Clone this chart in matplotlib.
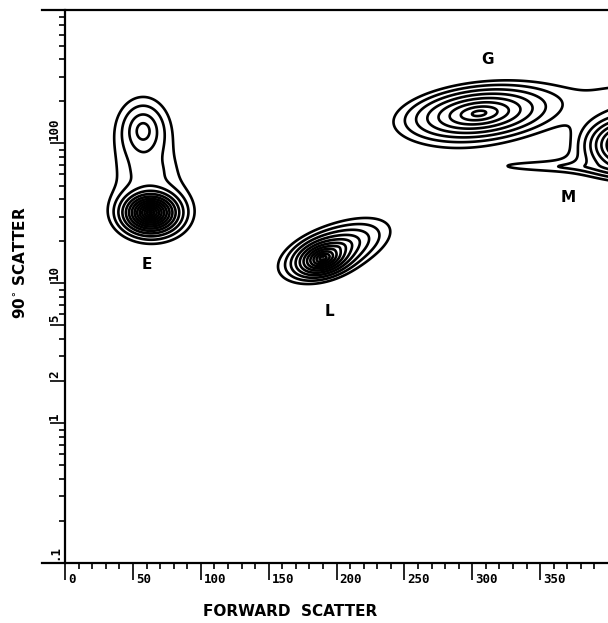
import numpy as np
import matplotlib
matplotlib.use('Agg')
import matplotlib.pyplot as plt
from matplotlib.transforms import ScaledTranslation

# ---- axis ticks -------------------------------------------------------
x_ticks = [0, 50, 100, 150, 200, 250, 300, 350]
x_tick_labels = ['0', '50', '100', '150', '200', '250', '300', '350']
y_ticks = [0.1, 1, 2, 5, 10, 100]
y_tick_labels = ['.1', '1', '2', '5', '10', '100']

# ---- cluster labels ---------------------------------------------------
cluster_names = ['E', 'L', 'G', 'M']
cluster_label_x = [60, 195, 311, 371]
cluster_label_y = [13.6, 6.25, 400, 41]

# ---- population components (forward scatter, log10 90deg scatter) ----
#            E_up   E_core E_halo E_neck L_core L_halo G      G_tail M      M_tail
comp_x   = [57.5,  63,    64,    62,    190,   200,   305,   420,   418,   375]
comp_u   = [2.09,  1.505, 1.50,  1.80,  1.18,  1.25,  2.215, 2.34,  1.99,  1.835]
comp_sx  = [14,    4.5,   17,    18,    5.5,   22,    22,    40,    10,    105]
comp_su  = [0.17,  0.032, 0.12,  0.12,  0.035, 0.12,  0.08,  0.12,  0.06,  0.075]
comp_rho = [0.0,   0.0,   0.0,   0.0,   0.3,   0.55,  0.25,  0.0,   0.0,   0.0]
comp_w   = [4.1,   150,   5,     0.8,   60,    6,     17,    1.5,   60,    1.4]

level_ratio = 1.45
n_levels = 16

# ---- density grid -----------------------------------------------------
gx = np.linspace(-20, 470, 981)
gu = np.linspace(-1.1, 3.1, 841)
X, U = np.meshgrid(gx, gu)
D = np.zeros_like(X)
for cx, cu, sx, su, rho, w in zip(comp_x, comp_u, comp_sx, comp_su, comp_rho, comp_w):
    dx = (X - cx) / sx
    du = (U - cu) / su
    Q = (dx**2 - 2 * rho * dx * du + du**2) / (1 - rho**2)
    D += w * np.exp(-np.sqrt(Q))
levels = [level_ratio**k for k in range(n_levels)]

# ---- figure -----------------------------------------------------------
fig = plt.figure(figsize=(6.08, 6.23), dpi=100)
ax = fig.add_axes([42/608, 60/623, 566/608, 553/623])
ax.contour(X, 10**U, D, levels=levels, colors='black', linewidths=1.9)

ax.set_yscale('log')
ax.set_xlim(-17, 400)
ax.set_ylim(0.1, 900)

ax.spines['left'].set_position(('data', 0))
ax.spines['right'].set_visible(False)
for s in ['left', 'bottom', 'top']:
    ax.spines[s].set_linewidth(1.6)

ax.set_xticks(x_ticks)
ax.set_xticklabels(x_tick_labels, fontfamily='DejaVu Sans Mono',
                   fontweight='bold', fontsize=9, ha='left')
ax.set_xticks(np.arange(10, 400, 10), minor=True)
ax.tick_params(axis='x', which='major', direction='out', length=12, width=1.2, pad=-5)
ax.tick_params(axis='x', which='minor', direction='out', length=4, width=1.2)
for lab in ax.get_xticklabels():
    lab.set_transform(lab.get_transform() + ScaledTranslation(3/100, 0, fig.dpi_scale_trans))

ax.set_yticks(y_ticks)
ax.set_yticklabels(y_tick_labels, fontfamily='DejaVu Sans Mono',
                   fontweight='bold', fontsize=9, rotation=90, va='bottom', ha='right')
ax.yaxis.set_minor_locator(matplotlib.ticker.LogLocator(base=10, subs=np.arange(2, 10)))
ax.yaxis.set_minor_formatter(matplotlib.ticker.NullFormatter())
ax.tick_params(axis='y', which='major', direction='out', length=11, width=1.2, pad=-8)
ax.tick_params(axis='y', which='minor', direction='out', length=4, width=1.2)
for lab in ax.get_yticklabels():
    lab.set_transform(lab.get_transform() + ScaledTranslation(0, 3/100, fig.dpi_scale_trans))

for name, lx, ly in zip(cluster_names, cluster_label_x, cluster_label_y):
    ax.text(lx, ly, name, ha='center', va='center', fontsize=11,
            fontweight='bold', fontfamily='DejaVu Sans')

fig.text(290/608, 1 - 611/623, 'FORWARD  SCATTER', ha='center', va='center',
         fontsize=11, fontweight='bold', fontfamily='DejaVu Sans')
fig.text(20/608, 1 - 263/623, '90$^{\\circ}$ SCATTER', ha='center', va='center',
         rotation=90, fontsize=11, fontweight='bold', fontfamily='DejaVu Sans')

fig.savefig('out.png', dpi=100)
